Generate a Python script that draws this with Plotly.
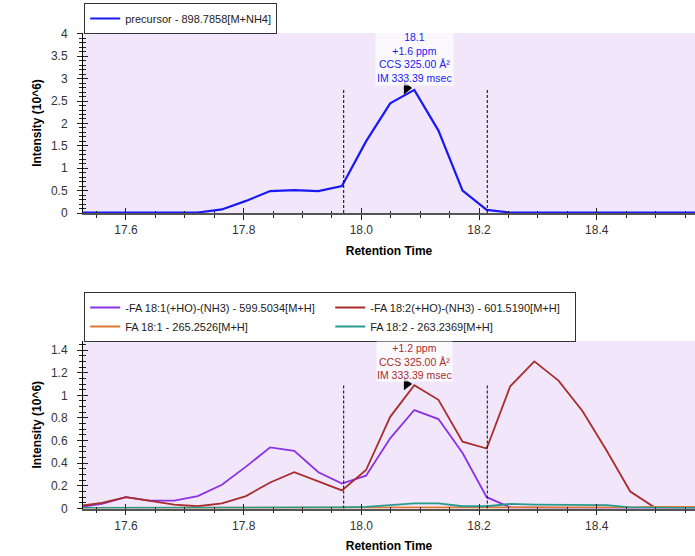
import plotly.graph_objects as go

# ---------------- data ----------------
rt = [17.518, 17.559, 17.600, 17.641, 17.682, 17.722, 17.763, 17.804, 17.845,
      17.886, 17.927, 17.967, 18.008, 18.049, 18.090, 18.131, 18.172, 18.213,
      18.253, 18.294, 18.335, 18.376, 18.417, 18.457, 18.498, 18.539, 18.580]

precursor = [0.01, 0.01, 0.01, 0.01, 0.01, 0.01, 0.08, 0.27, 0.49, 0.51, 0.49,
             0.60, 1.60, 2.45, 2.75, 1.84, 0.50, 0.07, 0.01, 0.01, 0.01, 0.01,
             0.01, 0.01, 0.01, 0.01, 0.01]

fa181_loss = [0.01, 0.04, 0.10, 0.07, 0.07, 0.11, 0.21, 0.37, 0.54, 0.51, 0.32,
              0.22, 0.29, 0.62, 0.87, 0.79, 0.49, 0.10, 0.01, 0.005, 0.005,
              0.005, 0.005, 0.005, 0.005, 0.005, 0.005]

fa182_loss = [0.02, 0.05, 0.10, 0.07, 0.035, 0.02, 0.045, 0.11, 0.23, 0.32,
              0.24, 0.16, 0.34, 0.81, 1.09, 0.96, 0.59, 0.53, 1.08, 1.30, 1.13,
              0.86, 0.51, 0.15, 0.01, 0.01, 0.01]

fa181 = [0.005, 0.005, 0.005, 0.005, 0.005, 0.005, 0.005, 0.005, 0.005, 0.005,
         0.005, 0.005, 0.005, 0.005, 0.005, 0.005, 0.005, 0.005, 0.005, 0.005,
         0.005, 0.005, 0.005, 0.01, 0.015, 0.015, 0.015]

fa182 = [0.005, 0.005, 0.005, 0.005, 0.005, 0.005, 0.005, 0.005, 0.01, 0.01,
         0.01, 0.01, 0.015, 0.03, 0.045, 0.045, 0.02, 0.02, 0.04, 0.035, 0.035,
         0.035, 0.03, 0.01, 0.005, 0.005, 0.005]

names_top = ["precursor - 898.7858[M+NH4]"]
names_bottom = ["-FA 18:1(+HO)-(NH3) - 599.5034[M+H]",
                "-FA 18:2(+HO)-(NH3) - 601.5190[M+H]",
                "FA 18:1 - 265.2526[M+H]",
                "FA 18:2 - 263.2369[M+H]"]

boundaries = [17.970, 18.214]
boundary_top_height = 2.76
boundary_bottom_height = 1.10

apex_rt = [18.077]
apex_top = [2.79]
apex_bottom = [1.10]

label_rt = 18.091
label_top_y = 2.83
label_bottom_y = 1.48
label_top = "18.1<br>+1.6 ppm<br>CCS 325.00 Å²<br>IM 333.39 msec"
label_bottom = "+1.2 ppm<br>CCS 325.00 Å²<br>IM 333.39 msec"

x_range = [17.527, 18.567]
y_top_range = [0, 4.02]
y_bottom_range = [0, 1.48]

# ---------------- styles ----------------
C_BLUE = "rgb(25,25,245)"
C_PURPLE = "rgb(140,50,230)"
C_RED = "rgb(170,45,45)"
C_ORANGE = "rgb(225,120,50)"
C_TEAL = "rgb(40,155,140)"
BG = "rgb(241,230,250)"
FONT = "Liberation Sans, Arial, sans-serif"

W, H = 695, 556

fig = go.Figure()

fig.add_trace(go.Scatter(x=rt, y=precursor, mode="lines", name=names_top[0],
                         line=dict(color=C_BLUE, width=2.2),
                         xaxis="x", yaxis="y", legend="legend"))

for name, vals, col in zip(names_bottom, [fa181_loss, fa182_loss, fa181, fa182],
                           [C_PURPLE, C_RED, C_ORANGE, C_TEAL]):
    fig.add_trace(go.Scatter(x=rt, y=vals, mode="lines", name=name,
                             line=dict(color=col, width=1.8),
                             xaxis="x2", yaxis="y2", legend="legend2"))

# apex markers
fig.add_trace(go.Scatter(x=apex_rt, y=apex_top, mode="markers", showlegend=False,
                         marker=dict(symbol="triangle-right", size=11, color="black"),
                         xaxis="x", yaxis="y", hoverinfo="skip"))
fig.add_trace(go.Scatter(x=apex_rt, y=apex_bottom, mode="markers", showlegend=False,
                         marker=dict(symbol="triangle-right", size=11, color="black"),
                         xaxis="x2", yaxis="y2", hoverinfo="skip"))

# dummy traces for overlay axes (inside ticks)
fig.add_trace(go.Scatter(x=[None], y=[None], showlegend=False, hoverinfo="skip",
                         xaxis="x3", yaxis="y3"))
fig.add_trace(go.Scatter(x=[None], y=[None], showlegend=False, hoverinfo="skip",
                         xaxis="x4", yaxis="y4"))

# boundary dashed lines
for b in boundaries:
    fig.add_shape(type="line", xref="x", yref="y", x0=b, x1=b, y0=0,
                  y1=boundary_top_height, line=dict(color="black", width=1, dash="3px,2px"))
    fig.add_shape(type="line", xref="x2", yref="y2", x0=b, x1=b, y0=0,
                  y1=boundary_bottom_height, line=dict(color="black", width=1, dash="3px,2px"))

fig.add_annotation(x=label_rt, y=label_top_y, xref="x", yref="y", text=label_top,
                   showarrow=False, yanchor="bottom", xanchor="center",
                   font=dict(family=FONT, size=10.5, color=C_BLUE),
                   bgcolor="rgba(255,255,255,0.75)", borderpad=1)
fig.add_annotation(x=label_rt, y=label_bottom_y, xref="x2", yref="y2", text=label_bottom,
                   showarrow=False, yanchor="top", xanchor="center",
                   font=dict(family=FONT, size=10.5, color=C_RED),
                   bgcolor="rgba(255,255,255,0.75)", borderpad=0)

def py(page_y):
    return 1 - page_y / H

top_dom = [py(213), py(33)]
bot_dom = [py(508.5), py(341)]

tickfont = dict(family=FONT, size=12, color="#333")
titlefont = dict(family=FONT, size=12, color="black", weight="bold")

def xax(dom_anchor):
    return dict(range=x_range, anchor=dom_anchor, domain=[0, 1], dtick=0.2,
                tick0=17.6, tickformat=".1f", ticks="outside", ticklen=5,
                tickcolor="#222", showline=True, linecolor="#555", linewidth=1.5,
                showgrid=False, zeroline=False, tickfont=tickfont, automargin=False,
                minor=dict(dtick=0.05, tick0=17.6, ticks="outside", ticklen=3,
                           tickcolor="#222"),
                title=dict(text="Retention Time", font=titlefont, standoff=10))

def yax(dom, anchor, rng, dtick, minor_dtick):
    return dict(range=rng, domain=dom, anchor=anchor, dtick=dtick, ticks="outside",
                ticklen=5, tickcolor="#222", showline=True, linecolor="black",
                linewidth=1, showgrid=False, zeroline=False, tickfont=tickfont,
                ticklabelstandoff=7, automargin=False,
                minor=dict(dtick=minor_dtick, ticks="outside", ticklen=3,
                           tickcolor="#222"),
                title=dict(text="Intensity (10^6)", font=titlefont, standoff=6))

def inside_x(over, anchor):
    return dict(overlaying=over, matches=over, anchor=anchor, ticks="inside",
                ticklen=5, tickcolor="#222", dtick=0.2, tick0=17.6,
                showticklabels=False, showline=False, showgrid=False, zeroline=False,
                automargin=False,
                minor=dict(dtick=0.05, tick0=17.6, ticks="inside", ticklen=2,
                           tickcolor="#222"))

def inside_y(over, anchor, dtick, minor_dtick):
    return dict(overlaying=over, matches=over, anchor=anchor, ticks="inside",
                ticklen=5, tickcolor="#222", dtick=dtick, showticklabels=False,
                showline=False, showgrid=False, zeroline=False, automargin=False,
                minor=dict(dtick=minor_dtick, ticks="inside", ticklen=3,
                           tickcolor="#222"))

fig.update_layout(
    width=W, height=H,
    margin=dict(l=83, r=0, t=0, b=0, autoexpand=False),
    paper_bgcolor="white", plot_bgcolor=BG,
    font=dict(family=FONT, size=11, color="#222"),
    xaxis=xax("y"), yaxis=yax(top_dom, "x", y_top_range, 0.5, 0.1),
    xaxis2=xax("y2"), yaxis2=yax(bot_dom, "x2", y_bottom_range, 0.2, 0.05),
    xaxis3=inside_x("x", "y"), yaxis3=inside_y("y", "x", 0.5, 0.1),
    xaxis4=inside_x("x2", "y2"), yaxis4=inside_y("y2", "x2", 0.2, 0.05),
    legend=dict(x=0.002, y=py(3), xanchor="left", yanchor="top",
                bgcolor="white", bordercolor="#333", borderwidth=1,
                font=dict(family=FONT, size=11, color="#222"),
                itemwidth=30, tracegroupgap=0),
    legend2=dict(x=0.002, y=py(292), xanchor="left", yanchor="top",
                 orientation="h", entrywidth=200, entrywidthmode="pixels",
                 bgcolor="white", bordercolor="#333", borderwidth=1,
                 font=dict(family=FONT, size=11, color="#222"),
                 itemwidth=30, tracegroupgap=0),
    showlegend=True,
)

fig.write_html("out.html",
               config={"displayModeBar": False},
               post_script="document.body.style.margin='0px';"
                           "document.body.style.overflow='hidden';")
